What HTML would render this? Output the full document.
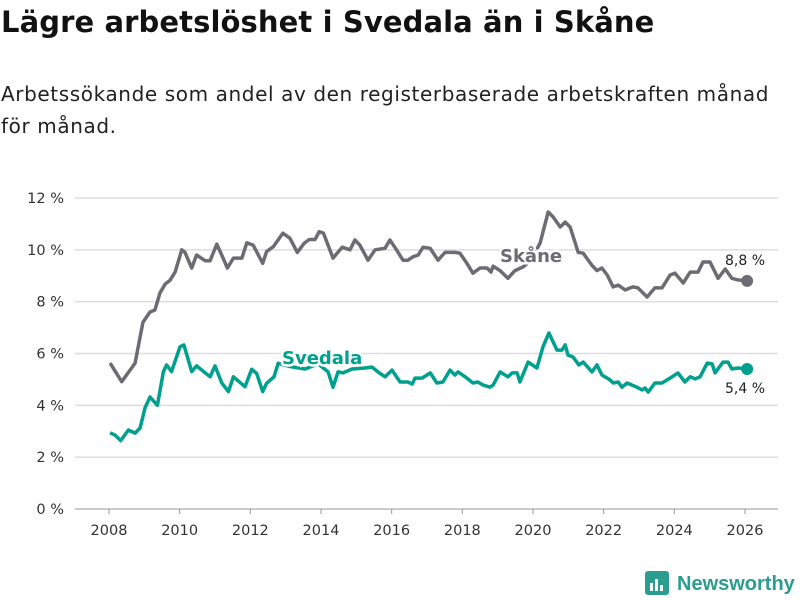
<!DOCTYPE html>
<html><head><meta charset="utf-8"><style>
body{margin:0;width:800px;height:600px;background:#fff;font-family:"DejaVu Sans","Liberation Sans",sans-serif;overflow:hidden;position:relative}
h1{position:absolute;left:1px;top:5px;margin:0;font-size:29px;font-weight:bold;color:#111;white-space:nowrap;letter-spacing:0.1px}
p{position:absolute;left:1px;top:78px;margin:0;font-size:20px;line-height:32px;color:#222;width:795px;letter-spacing:0.6px;white-space:nowrap}
svg{position:absolute;left:0;top:0}
</style></head><body>
<h1>Lägre arbetslöshet i Svedala än i Skåne</h1>
<p>Arbetssökande som andel av den registerbaserade arbetskraften månad<br>för månad.</p>
<svg id="chart" width="800" height="600"></svg>
<script>
const yTicks=[0,2,4,6,8,10,12];
const xTicks=[2008,2010,2012,2014,2016,2018,2020,2022,2024,2026];
const skaneYears=[2008.03,2008.36,2008.74,2008.96,2009.16,2009.30,2009.44,2009.59,2009.73,2009.87,2010.06,2010.15,2010.34,2010.48,2010.72,2010.86,2011.05,2011.19,2011.35,2011.52,2011.76,2011.90,2012.08,2012.35,2012.46,2012.65,2012.92,2013.12,2013.33,2013.52,2013.67,2013.83,2013.95,2014.07,2014.34,2014.60,2014.82,2014.96,2015.10,2015.33,2015.53,2015.81,2015.95,2016.09,2016.32,2016.46,2016.60,2016.75,2016.89,2017.09,2017.31,2017.51,2017.79,2017.93,2018.13,2018.30,2018.50,2018.70,2018.81,2018.87,2019.07,2019.29,2019.49,2019.72,2019.94,2020.20,2020.43,2020.57,2020.77,2020.91,2021.05,2021.28,2021.42,2021.67,2021.81,2021.95,2022.10,2022.27,2022.41,2022.61,2022.75,2022.83,2022.97,2023.23,2023.45,2023.65,2023.88,2024.02,2024.25,2024.45,2024.67,2024.81,2025.01,2025.24,2025.44,2025.63,2025.80,2026.06];
const skaneValues=[5.63,4.91,5.63,7.2,7.6,7.68,8.33,8.68,8.83,9.14,10.0,9.9,9.3,9.8,9.58,9.58,10.22,9.8,9.3,9.68,9.68,10.27,10.18,9.48,9.93,10.12,10.64,10.45,9.9,10.25,10.4,10.4,10.7,10.64,9.68,10.1,10.0,10.38,10.18,9.6,10.0,10.06,10.38,10.1,9.6,9.6,9.73,9.8,10.1,10.06,9.6,9.9,9.9,9.87,9.48,9.1,9.3,9.3,9.14,9.37,9.2,8.9,9.2,9.34,9.6,10.26,11.46,11.27,10.88,11.07,10.88,9.9,9.87,9.4,9.2,9.3,9.03,8.57,8.64,8.45,8.53,8.57,8.53,8.18,8.53,8.53,9.03,9.1,8.72,9.14,9.14,9.53,9.53,8.9,9.26,8.9,8.84,8.8];
const svedalaYears=[2008.03,2008.17,2008.33,2008.55,2008.74,2008.88,2009.02,2009.16,2009.37,2009.54,2009.63,2009.77,2010.01,2010.12,2010.34,2010.48,2010.86,2011.00,2011.19,2011.38,2011.52,2011.85,2012.04,2012.18,2012.35,2012.46,2012.67,2012.79,2013.12,2013.55,2013.92,2014.20,2014.34,2014.48,2014.62,2014.88,2015.25,2015.44,2015.61,2015.81,2016.01,2016.24,2016.46,2016.58,2016.66,2016.86,2017.09,2017.28,2017.45,2017.65,2017.79,2017.88,2018.13,2018.30,2018.44,2018.59,2018.78,2018.87,2019.07,2019.29,2019.41,2019.55,2019.63,2019.86,2020.11,2020.28,2020.45,2020.68,2020.82,2020.91,2020.99,2021.13,2021.30,2021.42,2021.67,2021.81,2021.95,2022.18,2022.27,2022.41,2022.52,2022.66,2022.94,2023.09,2023.17,2023.26,2023.45,2023.65,2023.88,2024.10,2024.30,2024.45,2024.59,2024.73,2024.93,2025.07,2025.15,2025.38,2025.52,2025.63,2025.80,2026.06];
const svedalaValues=[2.94,2.85,2.64,3.05,2.93,3.13,3.9,4.32,4.0,5.3,5.56,5.3,6.26,6.33,5.3,5.52,5.1,5.52,4.87,4.53,5.1,4.72,5.39,5.23,4.53,4.85,5.1,5.62,5.5,5.4,5.6,5.29,4.7,5.29,5.25,5.4,5.44,5.48,5.29,5.1,5.36,4.9,4.9,4.82,5.05,5.05,5.25,4.86,4.9,5.36,5.17,5.29,5.05,4.86,4.9,4.78,4.7,4.78,5.29,5.1,5.25,5.25,4.9,5.67,5.44,6.25,6.79,6.13,6.13,6.33,5.94,5.87,5.56,5.67,5.29,5.56,5.17,4.98,4.86,4.9,4.7,4.86,4.7,4.59,4.67,4.51,4.86,4.86,5.05,5.25,4.9,5.1,5.02,5.1,5.63,5.6,5.25,5.67,5.67,5.4,5.44,5.4];
const GRAY='#6d6c72',TEAL='#00a08f';
const xs=y=>109+(y-2008)*(636/18);
const ys=v=>509-v*(311/12);
const svg=document.getElementById('chart');
const NS='http://www.w3.org/2000/svg';
function mk(t,a,txt){const e=document.createElementNS(NS,t);for(const k in a)e.setAttribute(k,a[k]);if(txt!==undefined)e.textContent=txt;svg.appendChild(e);return e;}
yTicks.forEach(v=>{
 const l=mk('line',{x1:75,x2:778,y1:ys(v),y2:ys(v),stroke:v===0?'#999':'#ddd','stroke-width':v===0?1:1.5});
 
 
 const t=mk('text',{x:64,y:ys(v)+5,'text-anchor':'end','font-size':14.5,fill:'#333'},v+' %');
 
 
});
xTicks.forEach(y=>{
 const l=mk('line',{x1:xs(y),x2:xs(y),y1:509,y2:514,stroke:'#999'});
 
 
 const t=mk('text',{x:xs(y),y:535,'text-anchor':'middle','font-size':14.5,fill:'#333'},String(y));
 
 
});
function series(yrs,vals,col,name){
 const d=yrs.map((y,i)=>(i?'L':'M')+xs(y).toFixed(1)+','+ys(vals[i]).toFixed(1)).join('');
 const p=mk('path',{d:d,fill:'none',stroke:col,'stroke-width':3.5,'stroke-linejoin':'round'});
 
 
 const n=yrs.length-1;
 const c=mk('circle',{cx:xs(yrs[n]),cy:ys(vals[n]),r:6,fill:col});
 
 
}
series(skaneYears,skaneValues,GRAY,'skane');
series(svedalaYears,svedalaValues,TEAL,'svedala');
const l1=mk('text',{x:500,y:262,'font-size':18,'font-weight':'bold',fill:GRAY,stroke:'#fff','stroke-width':5,'paint-order':'stroke'},'Skåne');


const l2=mk('text',{x:282,y:364,'font-size':18,'font-weight':'bold',fill:TEAL,stroke:'#fff','stroke-width':5,'paint-order':'stroke'},'Svedala');


const v1=mk('text',{x:745,y:265,'text-anchor':'middle','font-size':14,fill:'#222'},'8,8 %');


const v2=mk('text',{x:745,y:393,'text-anchor':'middle','font-size':14,fill:'#222'},'5,4 %');


</script>
<svg width="800" height="600" style="pointer-events:none">
<rect x="645" y="571" width="24" height="24" rx="3" fill="#2a9d8f"/>
<rect x="650" y="583" width="3" height="8" fill="#fff"/><rect x="655" y="579" width="3" height="12" fill="#fff"/><rect x="660" y="585" width="3" height="6" fill="#fff"/>
<text x="677" y="590" font-size="20" font-weight="bold" fill="#2a9d8f" font-family="Liberation Sans, sans-serif">Newsworthy</text>
</svg>
</body></html>
